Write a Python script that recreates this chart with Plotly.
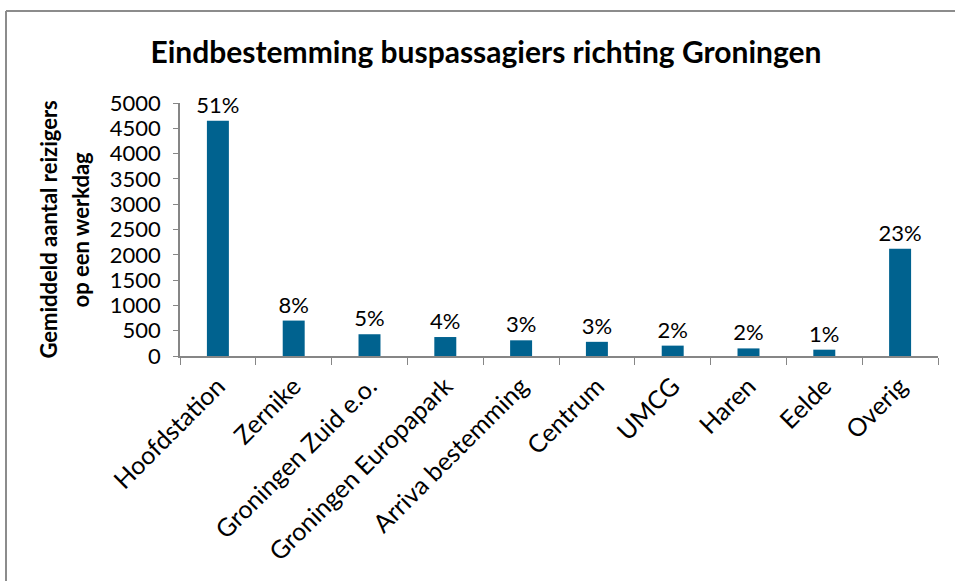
import plotly.graph_objects as go

categories = ["Hoofdstation", "Zernike", "Groningen Zuid e.o.", "Groningen Europapark",
              "Arriva bestemming", "Centrum", "UMCG", "Haren", "Eelde", "Overig"]
values = [4650, 700, 430, 375, 310, 280, 205, 150, 125, 2120]
pct_labels = ["51%", "8%", "5%", "4%", "3%", "3%", "2%", "2%", "1%", "23%"]
y_ticks = list(range(0, 5001, 500))

FONT = "Lato, Carlito, Calibri, sans-serif"
BAR = "#00628F"
AXIS = "#868686"

W, H = 955, 581
L, R, T, B = 180, 17, 103, 225
pw, ph = W - L - R, H - T - B

def px_x(x):
    return (x - L) / pw

def px_y(y):
    return (H - B - y) / ph

fig = go.Figure(go.Bar(
    x=categories, y=values, text=pct_labels, textposition="outside",
    textfont=dict(family=FONT, size=22, color="black"),
    constraintext="none",
    marker=dict(color=BAR, line=dict(width=0)),
    width=0.29, cliponaxis=False,
))

fig.update_layout(
    width=W, height=H,
    margin=dict(l=L, r=R, t=T, b=B),
    paper_bgcolor="white", plot_bgcolor="white",
    showlegend=False,
    font=dict(family=FONT, color="black"),
    title=dict(text="<b>Eindbestemming buspassagiers richting Groningen</b>",
               x=px_x(486), xref="paper", xanchor="center",
               y=1 - 52 / H, yref="container", yanchor="middle",
               font=dict(family=FONT, size=30, color="black")),
    xaxis=dict(
        tickangle=-45, tickfont=dict(family=FONT, size=25, color="black"),
        showline=True, linecolor=AXIS, linewidth=1.5,
        ticks="outside", tickson="boundaries", ticklen=7, tickcolor=AXIS,
        showgrid=False, range=[-0.5, 9.5],
        ticklabelstandoff=4,
    ),
    yaxis=dict(
        range=[0, 5000], tickvals=y_ticks,
        tickfont=dict(family=FONT, size=22, color="black"),
        showline=True, linecolor=AXIS, linewidth=1.5,
        ticks="outside", ticklen=5, tickcolor=AXIS,
        showgrid=False, zeroline=False,
        ticklabelstandoff=8,
    ),
    annotations=[
        dict(text="<b>Gemiddeld aantal reizigers</b>", textangle=-90,
             x=px_x(48), y=0.5, xref="paper", yref="paper",
             xanchor="center", yanchor="middle",
             showarrow=False, font=dict(family=FONT, size=22, color="black")),
        dict(text="<b>op een werkdag</b>", textangle=-90,
             x=px_x(80), y=0.5, xref="paper", yref="paper",
             xanchor="center", yanchor="middle",
             showarrow=False, font=dict(family=FONT, size=22, color="black")),
    ],
    shapes=[
        dict(type="line", xref="paper", yref="paper",
             x0=px_x(6), x1=px_x(6), y0=px_y(600), y1=px_y(11),
             line=dict(color="#8C8C8C", width=2)),
        dict(type="line", xref="paper", yref="paper",
             x0=px_x(6), x1=px_x(960), y0=px_y(11), y1=px_y(11),
             line=dict(color="#8C8C8C", width=2)),
    ],
)

fig.write_html("out.html", config={"displayModeBar": False},
               post_script="document.body.style.margin='0';document.body.style.overflow='hidden';")
